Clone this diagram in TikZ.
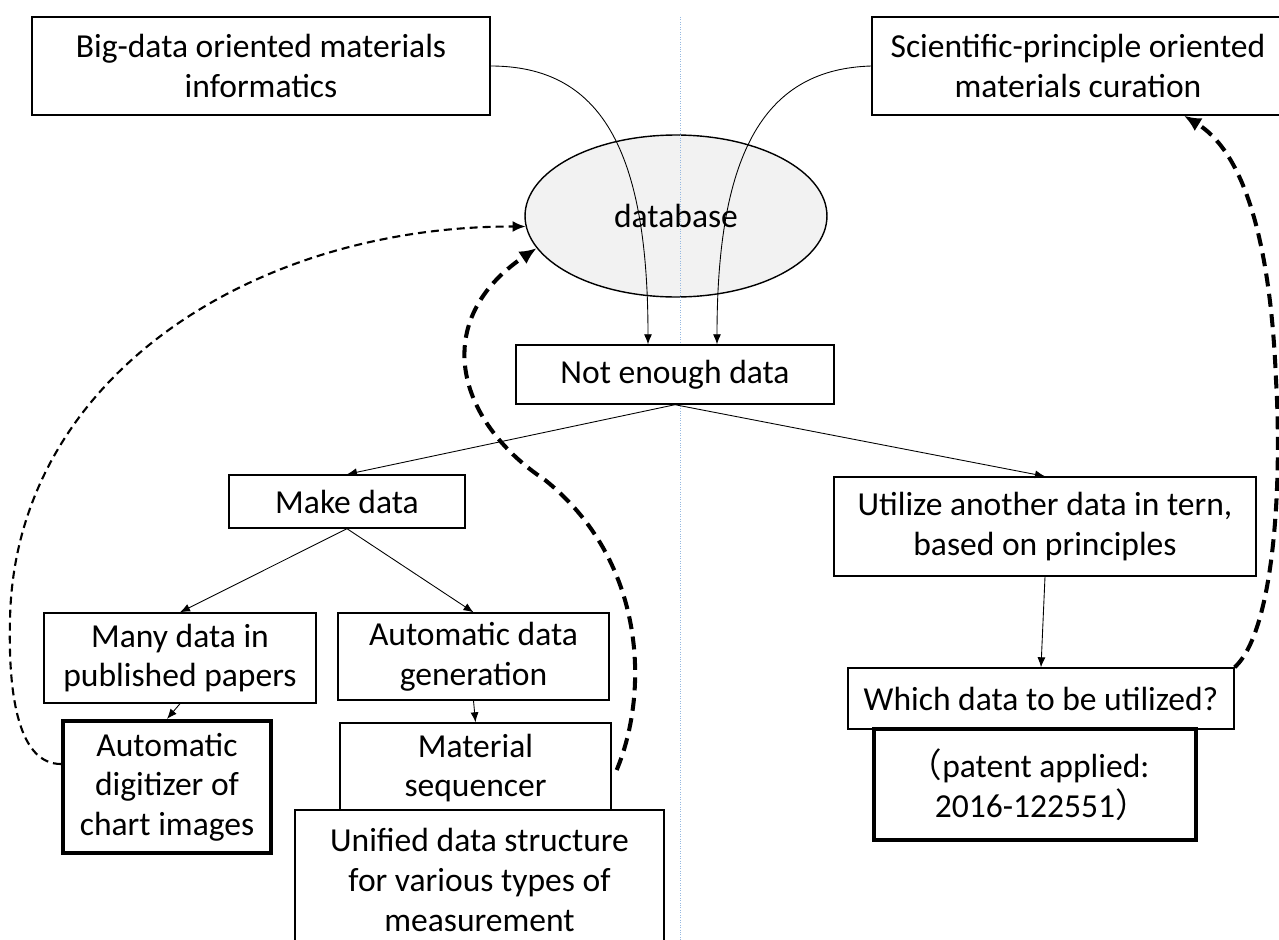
\documentclass[tikz,border=0pt]{standalone}
\usepackage{fontspec}
\setmainfont{Carlito}
\newfontfamily\cjk{Noto Sans CJK JP}
\usetikzlibrary{shapes.geometric,arrows.meta,calc}
\definecolor{guide}{RGB}{150,185,225}

\begin{document}
\begin{tikzpicture}[x=0.02cm,y=-0.02cm,font=\fontsize{19.1}{22.6}\selectfont,
  box/.style={draw,fill=white,line width=0.8pt,align=center,inner sep=2pt},
  grand/.style={box,line width=2.4pt},
  fl/.style={-{Latex[length=2mm,width=1.6mm]},line width=0.5pt},
  tir/.style={line width=1.2pt,dash pattern=on 1.6mm off 1mm,-{Latex[length=2.6mm,width=2.2mm]}},
  gtir/.style={line width=2.3pt,dash pattern=on 2.6mm off 1.5mm,-{Latex[length=3.4mm,width=3mm]}}]
\useasboundingbox (0,0) rectangle (1279,940);
\clip (0,0) rectangle (1279,940);
\node[ellipse,draw,fill=gray!10,line width=0.8pt,minimum width=6.04cm,minimum height=3.24cm] (db) at (676,216) {database};
\draw[densely dotted,guide,line width=0.4pt] (680,17) -- (680,940);
\node[box,minimum width=9.16cm,minimum height=1.96cm] (bigdata) at (261,66) {Big-data oriented materials\\informatics};
\node[box,minimum width=8.24cm,minimum height=1.96cm] (curation) at (1078,66) {Scientific-principle oriented\\materials curation};
\node[box,minimum width=6.36cm,minimum height=1.18cm] (notenough) at (675,374.5) {Not enough data};
\node[box,minimum width=4.72cm,minimum height=1.06cm] (make) at (347,501.5) {Make data};
\node[box,minimum width=5.44cm,minimum height=1.8cm] (many) at (180,658) {Many data in\\published papers};
\node[box,minimum width=5.42cm,minimum height=1.74cm] (autogen) at (473.5,656.5) {Automatic data\\generation};
\node[grand,minimum width=4.16cm,minimum height=2.64cm] (digit) at (167,787) {Automatic\\digitizer of\\chart images};
\node[box,minimum width=5.42cm,minimum height=1.8cm] (seq) at (475.5,768) {Material\\sequencer};
\node[box,minimum width=7.38cm,minimum height=2.8cm] (unif) at (479.5,880) {Unified data structure\\for various types of\\measurement};
\node[box,minimum width=8.44cm,minimum height=1.98cm] (utilize) at (1045,526.5) {Utilize another data in tern,\\based on principles};
\node[box,minimum width=7.72cm,minimum height=1.22cm] (which) at (1041,698.5) {Which data to be utilized?};
\node[grand,minimum width=6.44cm,minimum height=2.22cm] (patent) at (1035,784.5) {{\cjk （}patent applied:\kern0.35em\\2016-122551{\cjk ）}\kern-0.4em};
% solid links
\draw[fl] (bigdata.east) .. controls +(110,0) and +(0,-195) .. ($(notenough.north)+(-27,0)$);
\draw[fl] (curation.west) .. controls +(-105,3) and +(0,-195) .. ($(notenough.north)+(42,0)$);
\foreach \a/\b in {notenough/make, notenough/utilize, make/many, make/autogen, many/digit, autogen/seq, utilize/which}
  \draw[fl] (\a.south) -- (\b.north);
% dashed feedback
\draw[tir] ($(digit.west)+(0,-23)$) .. controls (20,764) and (8,700) .. (10,620) .. controls (14,380) and (250,226) .. (db.184);
\draw[gtir] ($(seq.east)+(5,2)$) .. controls (650,690) and (645,560) .. (545,480) .. controls (455,420) and (430,320) .. (db.193);
\draw[gtir] (which.north east) .. controls (1275,630) and (1282,480) .. (1276,380) .. controls (1270,230) and (1240,150) .. ($(curation.south)+(106,0)$);
\end{tikzpicture}
\end{document}
